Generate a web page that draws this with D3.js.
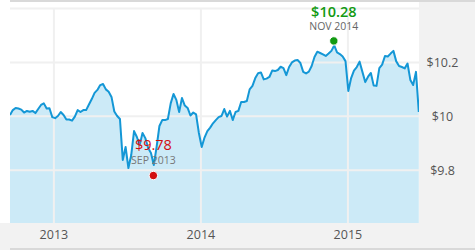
<!DOCTYPE html>
<html><head><meta charset="utf-8">
<script src="https://cdn.jsdelivr.net/npm/d3@7/dist/d3.min.js"></script>
<style>
html,body{margin:0;padding:0;background:#fff;}
svg{display:block;font-family:"Open Sans",sans-serif;}
</style></head>
<body><svg id="c" width="475" height="250"></svg>
<script>
const dates = ["2012-09-14","2012-09-21","2012-09-28","2012-10-05","2012-10-12","2012-10-19","2012-10-26","2012-11-02","2012-11-09","2012-11-16","2012-11-23","2012-11-30","2012-12-07","2012-12-14","2012-12-21","2012-12-28",
"2013-01-04","2013-01-11","2013-01-18","2013-01-25","2013-02-01","2013-02-08","2013-02-15","2013-02-22","2013-03-01","2013-03-08","2013-03-15","2013-03-22","2013-03-29","2013-04-05","2013-04-12","2013-04-19","2013-04-26","2013-05-03","2013-05-10","2013-05-17","2013-05-24","2013-05-31","2013-06-07","2013-06-14","2013-06-21","2013-06-28","2013-07-05","2013-07-12","2013-07-19","2013-07-26","2013-08-02","2013-08-09","2013-08-16","2013-08-23","2013-08-30","2013-09-06","2013-09-13","2013-09-20","2013-09-27","2013-10-04","2013-10-11","2013-10-18","2013-10-25","2013-11-01","2013-11-08","2013-11-15","2013-11-22","2013-11-29","2013-12-06","2013-12-13","2013-12-20","2013-12-27",
"2014-01-03","2014-01-10","2014-01-17","2014-01-24","2014-01-31","2014-02-07","2014-02-14","2014-02-21","2014-02-28","2014-03-07","2014-03-14","2014-03-21","2014-03-28","2014-04-04","2014-04-11","2014-04-18","2014-04-25","2014-05-02","2014-05-09","2014-05-16","2014-05-23","2014-05-30","2014-06-06","2014-06-13","2014-06-20","2014-06-27","2014-07-04","2014-07-11","2014-07-18","2014-07-25","2014-08-01","2014-08-08","2014-08-15","2014-08-22","2014-08-29","2014-09-05","2014-09-12","2014-09-19","2014-09-26","2014-10-03","2014-10-10","2014-10-17","2014-10-24","2014-10-31","2014-11-07","2014-11-14","2014-11-21","2014-11-28","2014-12-05","2014-12-12","2014-12-19","2014-12-26",
"2015-01-02","2015-01-09","2015-01-16","2015-01-23","2015-01-30","2015-02-06","2015-02-13","2015-02-20","2015-02-27","2015-03-06","2015-03-13","2015-03-20","2015-03-27","2015-04-03","2015-04-10","2015-04-17","2015-04-24","2015-05-01","2015-05-08","2015-05-15","2015-05-22","2015-05-29","2015-06-05","2015-06-12","2015-06-19","2015-06-26"];
const navValues = [10.005,10.023,10.031,10.029,10.025,10.014,10.020,10.017,10.020,10.012,10.027,10.042,10.048,10.029,10.030,9.997,
9.993,10.001,10.016,10.005,9.988,9.988,9.984,9.999,10.023,10.016,10.023,10.023,10.044,10.064,10.087,10.098,10.116,10.120,10.100,10.091,10.072,10.018,10.001,9.990,9.838,9.886,9.808,9.856,9.945,9.923,9.893,9.938,9.919,9.882,9.864,9.819,9.886,9.964,9.986,9.986,9.990,10.048,10.083,10.061,10.016,10.068,10.040,10.031,10.003,10.014,10.007,9.938,
9.886,9.921,9.945,9.958,9.974,9.986,9.997,10.001,10.027,9.999,10.020,9.986,10.016,10.020,10.053,10.053,10.057,10.100,10.113,10.142,10.160,10.163,10.137,10.140,10.146,10.170,10.168,10.172,10.184,10.179,10.153,10.183,10.200,10.207,10.209,10.198,10.165,10.159,10.166,10.187,10.220,10.240,10.235,10.230,10.224,10.233,10.243,10.263,10.237,10.231,10.222,10.205,
10.094,10.142,10.170,10.183,10.203,10.165,10.127,10.147,10.161,10.114,10.113,10.179,10.192,10.224,10.222,10.233,10.243,10.204,10.187,10.183,10.178,10.196,10.135,10.116,10.165,10.016];
const yTicks = [9.8, 10, 10.2];
const yTickLabels = ["$9.8", "$10", "$10.2"];
const yGrid = [9.8, 10, 10.2, 10.4];
const xTickDates = ["2013-01-01", "2014-01-01", "2015-01-01"];
const xTickLabels = ["2013", "2014", "2015"];
const extremes = [
  {date: "2014-11-27", value: 10.28, label: "$10.28", sub: "NOV 2014", kind: "high"},
  {date: "2013-09-05", value: 9.78, label: "$9.78", sub: "SEP 2013", kind: "low"}
];

const parse = d3.utcParse("%Y-%m-%d");
const data = dates.map((d, i) => ({date: parse(d), value: navValues[i]}));
const svg = d3.select("#c");
const W = 475, H = 250;
const L = 10, R = 419, T = 2, B = 223;

const x = d3.scaleUtc().domain([parse("2012-09-14"), parse("2015-06-26")]).range([10, 418.8]);
const y = d3.scaleLinear().domain([9.6, 10.4]).range([224, 8.6]);

// backgrounds
svg.append("rect").attr("x", 0).attr("y", 0).attr("width", W).attr("height", H).attr("fill", "#f2f2f2");
svg.append("rect").attr("x", 0).attr("y", 0).attr("width", R).attr("height", B).attr("fill", "#ffffff");
svg.append("rect").attr("x", L).attr("y", 0).attr("width", W - L).attr("height", 2).attr("fill", "#d9d9d9");
svg.append("rect").attr("x", L).attr("y", 248).attr("width", W - L).attr("height", 2).attr("fill", "#d9d9d9");

svg.append("clipPath").attr("id", "clip").append("rect")
  .attr("x", L).attr("y", T).attr("width", R - L).attr("height", B - T);

const plot = svg.append("g").attr("clip-path", "url(#clip)");

const area = d3.area().x(d => x(d.date)).y0(B).y1(d => y(d.value));
const line = d3.line().x(d => x(d.date)).y(d => y(d.value));

plot.append("path").datum(data).attr("d", area).attr("fill", "#cceaf7");

// gridlines
plot.selectAll(".hg").data(yGrid).join("line")
  .attr("x1", L).attr("x2", R).attr("y1", d => y(d)).attr("y2", d => y(d))
  .attr("stroke", "#f0f0f0").attr("stroke-width", 2);
plot.selectAll(".vg").data(xTickDates).join("line")
  .attr("x1", d => x(parse(d))).attr("x2", d => x(parse(d)))
  .attr("y1", y(10.4)).attr("y2", B)
  .attr("stroke", "#f0f0f0").attr("stroke-width", 2);

plot.append("path").datum(data).attr("d", line)
  .attr("fill", "none").attr("stroke", "#1497d6").attr("stroke-width", 2)
  .attr("stroke-linejoin", "round");

// y labels
svg.selectAll(".yl").data(yTicks).join("text")
  .attr("x", 442.5).attr("y", d => y(d)).attr("dy", "0.35em")
  .attr("text-anchor", "middle").attr("font-size", 12.5).attr("fill", "#555")
  .text((d, i) => yTickLabels[i]);

// x labels
svg.selectAll(".xl").data(xTickDates).join("text")
  .attr("x", d => x(parse(d))).attr("y", 235).attr("dy", "0.35em")
  .attr("text-anchor", "middle").attr("font-size", 12.5).attr("fill", "#555")
  .text((d, i) => xTickLabels[i]);

// extremes
extremes.forEach(e => {
  const cx = x(parse(e.date)), cy = y(e.value);
  const col = e.kind === "high" ? "#129a12" : "#d20f0f";
  if (e.kind === "high") {
    svg.append("text").attr("x", cx).attr("y", 16.5).attr("text-anchor", "middle")
      .attr("font-size", 14.5).attr("font-weight", 600).attr("fill", col).text(e.label);
    svg.append("text").attr("x", cx).attr("y", 30).attr("text-anchor", "middle")
      .attr("font-size", 10.5).attr("fill", "#666").text(e.sub);
  } else {
    svg.append("text").attr("x", cx).attr("y", 149.5).attr("text-anchor", "middle")
      .attr("font-size", 14.5).attr("fill", col).text(e.label);
    svg.append("text").attr("x", cx).attr("y", 163.5).attr("text-anchor", "middle")
      .attr("font-size", 10.5).attr("fill", "#777").text(e.sub);
  }
  svg.append("circle").attr("cx", cx).attr("cy", cy).attr("r", 4.2)
    .attr("fill", col).attr("stroke", "#fff").attr("stroke-width", 1);
});
</script></body></html>
